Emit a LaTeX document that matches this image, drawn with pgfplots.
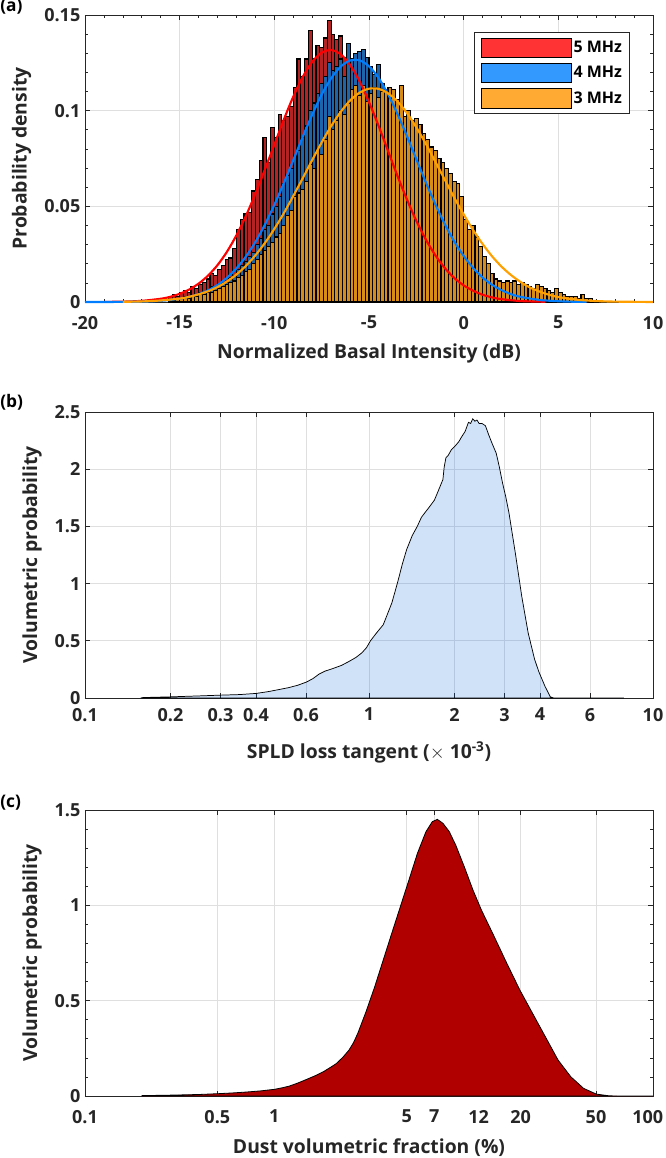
\documentclass[border=0pt]{standalone}
\usepackage{fontspec}
\setmainfont{Open Sans}
\usepackage{pgfplots}
\pgfplotsset{compat=1.18}

\definecolor{axgray}{RGB}{38,38,38}
\definecolor{gridgray}{RGB}{223,223,223}
\definecolor{barred}{RGB}{180,35,35}
\definecolor{barblue}{RGB}{30,100,170}
\definecolor{barorange}{RGB}{215,140,25}
\definecolor{legred}{RGB}{255,51,51}
\definecolor{legblue}{RGB}{51,153,255}
\definecolor{legorange}{RGB}{255,170,51}
\definecolor{curvered}{RGB}{255,0,0}
\definecolor{curveblue}{RGB}{0,125,255}
\definecolor{curveorange}{RGB}{255,160,0}
\definecolor{spldblue}{RGB}{0,100,220}
\definecolor{dustred}{RGB}{176,0,0}

\pgfplotsset{
  mystyle/.style={
    scale only axis, width=426pt, height=214.5pt,
    axis line style={axgray, line width=0.6pt},
    tick style={axgray, line width=0.5pt},
    tick align=inside,
    major tick length=4pt, minor tick length=2.5pt,
    xmajorgrids, ymajorgrids,
    major grid style={gridgray, line width=0.5pt},
    tick label style={font=\bfseries\fontsize{13.5}{15}\selectfont, text=axgray},
    label style={font=\bfseries\fontsize{14.5}{17}\selectfont, text=axgray},
    xticklabel style={yshift=-7pt},
    xlabel style={at={(axis description cs:0.5,-0.181)}, anchor=center},
  }
}

\begin{document}
\begin{tikzpicture}
\path[use as bounding box] (0pt,0pt) rectangle (499.5pt,-868.5pt);

% ---------------- (a) ----------------
\begin{axis}[mystyle,
  at={(63.75pt,-11.25pt)}, anchor=north west,
  height=215.25pt,
  xmin=-20, xmax=10, ymin=0, ymax=0.15,
  xtick={-20,-15,-10,-5,0,5,10},
  xticklabels={-20,-15,-10,-5,0,5,10},
  ytick={0,0.05,0.1,0.15},
  yticklabels={0,0.05,0.1,0.15},
  minor x tick num=4, minor y tick num=4,
  clip=false,
  xlabel={Normalized Basal Intensity (dB)},
  ylabel={Probability density},
  ylabel style={at={(axis description cs:-0.1114,0.5)}, anchor=center},
  legend style={at={(0.9595,0.941)}, anchor=north east, draw=axgray, line width=0.6pt,
    font=\bfseries\fontsize{12}{14}\selectfont, text=black,
    inner xsep=4.5pt, inner ysep=4pt, row sep=4pt, nodes={inner sep=1.2pt}},
  legend cell align=left,
  legend image code/.code={\draw[#1, line width=0.6pt] (0pt,-7.2pt) rectangle (68pt,7.2pt);},
]
% 5 MHz histogram
\addplot[ybar interval, fill=barred, draw=black, line width=0.85pt, forget plot] table {
x y
-15.6 0.003
-15.4 0.004
-15.2 0.003
-15.0 0.005
-14.8 0.006
-14.6 0.005
-14.4 0.008
-14.2 0.007
-14.0 0.009
-13.8 0.010
-13.6 0.012
-13.4 0.015
-13.2 0.014
-13.0 0.017
-12.8 0.019
-12.6 0.022
-12.4 0.023
-12.2 0.028
-12.0 0.038
-11.8 0.043
-11.6 0.046
-11.4 0.047
-11.2 0.058
-11.0 0.064
-10.8 0.074
-10.6 0.086
-10.4 0.073
-10.2 0.091
-10.0 0.086
-9.8 0.098
-9.6 0.095
-9.4 0.097
-9.2 0.102
-9.0 0.112
-8.8 0.127
-8.6 0.118
-8.4 0.127
-8.2 0.142
-8.0 0.127
-7.8 0.134
-7.6 0.133
-7.4 0.138
-7.2 0.147
-7.0 0.140
-6.8 0.137
-6.6 0.139
-6.4 0.128
-6.2 0.125
-6.0 0.121
-5.8 0.118
-5.6 0.110
-5.4 0.104
-5.2 0.099
-5.0 0.093
-4.8 0.088
-4.6 0.082
-4.4 0.076
-4.2 0.070
-4.0 0.064
-3.8 0.058
-3.6 0.053
-3.4 0.048
-3.2 0.043
-3.0 0.038
-2.8 0.034
-2.6 0.030
-2.4 0.026
-2.2 0.023
-2.0 0.020
-1.8 0.020
};
% 4 MHz histogram
\addplot[ybar interval, fill=barblue, draw=black, line width=0.85pt, forget plot] table {
x y
-15.0 0.002
-14.8 0.002
-14.6 0.003
-14.4 0.003
-14.2 0.004
-14.0 0.005
-13.8 0.005
-13.6 0.006
-13.4 0.008
-13.2 0.007
-13.0 0.009
-12.8 0.010
-12.6 0.010
-12.4 0.013
-12.2 0.014
-12.0 0.017
-11.8 0.019
-11.6 0.021
-11.4 0.024
-11.2 0.026
-11.0 0.030
-10.8 0.033
-10.6 0.038
-10.4 0.040
-10.2 0.046
-10.0 0.050
-9.8 0.055
-9.6 0.062
-9.4 0.066
-9.2 0.070
-9.0 0.076
-8.8 0.079
-8.6 0.086
-8.4 0.092
-8.2 0.100
-8.0 0.104
-7.8 0.109
-7.6 0.114
-7.4 0.118
-7.2 0.125
-7.0 0.121
-6.8 0.123
-6.6 0.127
-6.4 0.118
-6.2 0.135
-6.0 0.127
-5.8 0.130
-5.6 0.131
-5.4 0.132
-5.2 0.128
-5.0 0.123
-4.8 0.119
-4.6 0.124
-4.4 0.114
-4.2 0.108
-4.0 0.104
-3.8 0.100
-3.6 0.096
-3.4 0.093
-3.2 0.089
-3.0 0.085
-2.8 0.080
-2.6 0.074
-2.4 0.069
-2.2 0.064
-2.0 0.058
-1.8 0.053
-1.6 0.049
-1.4 0.044
-1.2 0.040
-1.0 0.036
-0.8 0.032
-0.6 0.029
-0.4 0.026
-0.2 0.022
0.0 0.020
0.2 0.020
};
% 3 MHz histogram
\addplot[ybar interval, fill=barorange, draw=black, line width=0.85pt, forget plot] table {
x y
-15.6 0.001
-15.4 0.001
-15.2 0.002
-15.0 0.002
-14.8 0.003
-14.6 0.002
-14.4 0.003
-14.2 0.003
-14.0 0.004
-13.8 0.004
-13.6 0.005
-13.4 0.005
-13.2 0.006
-13.0 0.007
-12.8 0.008
-12.6 0.009
-12.4 0.010
-12.2 0.011
-12.0 0.013
-11.8 0.014
-11.6 0.016
-11.4 0.017
-11.2 0.020
-11.0 0.022
-10.8 0.025
-10.6 0.027
-10.4 0.029
-10.2 0.031
-10.0 0.034
-9.8 0.036
-9.6 0.040
-9.4 0.045
-9.2 0.048
-9.0 0.055
-8.8 0.057
-8.6 0.059
-8.4 0.063
-8.2 0.072
-8.0 0.070
-7.8 0.080
-7.6 0.077
-7.4 0.085
-7.2 0.097
-7.0 0.090
-6.8 0.095
-6.6 0.100
-6.4 0.098
-6.2 0.104
-6.0 0.111
-5.8 0.113
-5.6 0.108
-5.4 0.113
-5.2 0.105
-5.0 0.109
-4.8 0.112
-4.6 0.107
-4.4 0.110
-4.2 0.111
-4.0 0.112
-3.8 0.111
-3.6 0.106
-3.4 0.113
-3.2 0.097
-3.0 0.100
-2.8 0.095
-2.6 0.096
-2.4 0.093
-2.2 0.088
-2.0 0.085
-1.8 0.081
-1.6 0.079
-1.4 0.075
-1.2 0.073
-1.0 0.070
-0.8 0.067
-0.6 0.063
-0.4 0.062
-0.2 0.055
0.0 0.043
0.2 0.038
0.4 0.040
0.6 0.034
0.8 0.029
1.0 0.024
1.2 0.020
1.4 0.015
1.6 0.012
1.8 0.011
2.0 0.010
2.2 0.011
2.4 0.010
2.6 0.011
2.8 0.009
3.0 0.010
3.2 0.009
3.4 0.008
3.6 0.007
3.8 0.009
4.0 0.008
4.2 0.007
4.4 0.006
4.6 0.005
4.8 0.007
5.0 0.005
5.2 0.004
5.4 0.003
5.6 0.003
5.8 0.003
6.0 0.002
6.2 0.004
6.4 0.002
6.6 0.002
6.8 0.001
7.0 0.001
7.2 0.001
};
% fitted curves
\addplot[curvered, line width=1.6pt, smooth, forget plot] coordinates {
(-19,0.00006) (-18,0.00019) (-17,0.00061) (-16,0.0017) (-15.5,0.0027) (-15,0.0043)
(-14.5,0.0065) (-14,0.0096) (-13.5,0.0138) (-13,0.0193) (-12.5,0.0263) (-12,0.0349)
(-11.5,0.0450) (-11,0.0566) (-10.5,0.0692) (-10,0.0822) (-9.5,0.0953) (-9,0.1073)
(-8.5,0.1176) (-8,0.1255) (-7.5,0.1303) (-7,0.1317) (-6.5,0.1295) (-6,0.1239)
(-5.5,0.1154) (-5,0.1045) (-4.5,0.0922) (-4,0.0791) (-3.5,0.0660) (-3,0.0537)
(-2.5,0.0424) (-2,0.0327) (-1.5,0.0245) (-1,0.0178) (-0.5,0.0126) (0,0.0087)
(0.5,0.0059) (1,0.0038) (1.5,0.0024) (2,0.0015) (3,0.0005) (4,0.0002) (4.3,0.0001)
};
\addplot[curveblue, line width=1.6pt, smooth, forget plot] coordinates {
(-20,0.0000) (-19,0.00002) (-18,0.00007) (-17,0.0002) (-16,0.0006) (-15,0.0017)
(-14.5,0.0027) (-14,0.0041) (-13.5,0.0061) (-13,0.0089) (-12.5,0.0127) (-12,0.0176)
(-11.5,0.0238) (-11,0.0314) (-10.5,0.0404) (-10,0.0508) (-9.5,0.0621) (-9,0.0741)
(-8.5,0.0863) (-8,0.0979) (-7.5,0.1084) (-7,0.1169) (-6.5,0.1230) (-6,0.1262)
(-5.5,0.1263) (-5,0.1232) (-4.5,0.1172) (-4,0.1087) (-3.5,0.0984) (-3,0.0868)
(-2.5,0.0746) (-2,0.0626) (-1.5,0.0512) (-1,0.0408) (-0.5,0.0317) (0,0.0241)
(0.5,0.0178) (1,0.0128) (1.5,0.0090) (2,0.0062) (2.5,0.0041) (3,0.0027)
(4,0.0011) (5,0.0004) (6,0.0001) (6.5,0.0001)
};
\addplot[curveorange, line width=1.6pt, smooth, forget plot] coordinates {
(-18,0.0001) (-17,0.0003) (-16,0.0008) (-15,0.0018) (-14.5,0.0027) (-14,0.0040)
(-13.5,0.0056) (-13,0.0078) (-12.5,0.0107) (-12,0.0144) (-11.5,0.0189) (-11,0.0244)
(-10.5,0.0308) (-10,0.0382) (-9.5,0.0464) (-9,0.0554) (-8.5,0.0647) (-8,0.0742)
(-7.5,0.0834) (-7,0.0919) (-6.5,0.0993) (-6,0.1053) (-5.5,0.1094) (-5,0.1115)
(-4.5,0.1114) (-4,0.1091) (-3.5,0.1049) (-3,0.0988) (-2.5,0.0913) (-2,0.0827)
(-1.5,0.0734) (-1,0.0640) (-0.5,0.0546) (0,0.0458) (0.5,0.0376) (1,0.0303)
(1.5,0.0239) (2,0.0185) (2.5,0.0141) (3,0.0105) (3.5,0.0076) (4,0.0055)
(4.5,0.0038) (5,0.0026) (6,0.0012) (7,0.0005) (8,0.0002) (9,0.0001) (10,0.0000)
};
\addlegendimage{fill=legred, draw=black}
\addlegendentry{5 MHz}
\addlegendimage{fill=legblue, draw=black}
\addlegendentry{4 MHz}
\addlegendimage{fill=legorange, draw=black}
\addlegendentry{3 MHz}
\end{axis}

% ---------------- (b) ----------------
\begin{axis}[mystyle,
  at={(63.75pt,-309pt)}, anchor=north west,
  xmode=log, xmin=0.1, xmax=10, ymin=0, ymax=2.5,
  xtick={0.1,0.2,0.3,0.4,0.6,1,2,3,4,6,10},
  xticklabels={0.1,0.2,0.3,0.4,0.6,1,2,3,4,6,10},
  xminorticks=false,
  ytick={0,0.5,1,1.5,2,2.5},
  yticklabels={0,0.5,1,1.5,2,2.5},
  xticklabel style={yshift=3pt},
  xlabel={SPLD loss tangent ($\times$ 10\textsuperscript{-3})},
  xlabel style={at={(axis description cs:0.5,-0.19)}, anchor=center},
  ylabel={Volumetric probability},
  ylabel style={at={(axis description cs:-0.093,0.5)}, anchor=center},
]
\addplot[fill=spldblue, fill opacity=0.19, draw=black, draw opacity=1, line width=0.55pt] coordinates {
(0.157,0) (0.16,0.004) (0.2,0.01) (0.25,0.018) (0.3,0.025) (0.35,0.03) (0.4,0.04)
(0.44,0.055) (0.473,0.07) (0.52,0.09) (0.562,0.112) (0.603,0.14) (0.635,0.17)
(0.668,0.21) (0.70,0.235) (0.741,0.255) (0.80,0.285) (0.851,0.32) (0.90,0.355)
(0.944,0.395) (0.98,0.44) (1.012,0.50) (1.06,0.565) (1.122,0.64) (1.16,0.73)
(1.203,0.83) (1.235,0.93) (1.267,1.03) (1.31,1.17) (1.358,1.30) (1.42,1.42)
(1.479,1.50) (1.53,1.58) (1.585,1.63) (1.62,1.66) (1.70,1.73) (1.76,1.82)
(1.821,1.91) (1.84,2.02) (1.866,2.10) (1.90,2.12) (1.95,2.17) (2.006,2.20)
(2.07,2.24) (2.128,2.29) (2.18,2.33) (2.24,2.41) (2.28,2.40) (2.318,2.44)
(2.36,2.42) (2.40,2.43) (2.442,2.40) (2.50,2.40) (2.57,2.38) (2.64,2.30)
(2.708,2.23) (2.805,2.14) (2.871,2.03) (2.953,1.88) (3.03,1.76) (3.110,1.62)
(3.274,1.27) (3.450,0.89) (3.634,0.57) (3.828,0.34) (3.963,0.23) (4.17,0.10)
(4.35,0.01) (4.47,0) (7.9,0)
} \closedcycle;
\end{axis}

% ---------------- (c) ----------------
\begin{axis}[mystyle,
  at={(63.75pt,-607.5pt)}, anchor=north west,
  xmode=log, xmin=0.1, xmax=100, ymin=0, ymax=1.5,
  xtick={0.1,0.5,1,5,7,12,20,50,100},
  xticklabels={0.1,0.5,1,5,7,12,20,50,\hspace{-8pt}100},
  xminorticks=false,
  ytick={0,0.5,1,1.5},
  yticklabels={0,0.5,1,1.5},
  minor y tick num=4,
  xlabel={Dust volumetric fraction (\%)},
  ylabel={Volumetric probability},
  ylabel style={at={(axis description cs:-0.093,0.5)}, anchor=center},
]
\addplot[fill=dustred, draw=black, line width=0.6pt] coordinates {
(0.2,0.002) (0.3,0.005) (0.4,0.008) (0.5,0.012) (0.6,0.016) (0.716,0.021)
(0.85,0.027) (1.0,0.035) (1.1,0.043) (1.2,0.052) (1.33,0.068) (1.48,0.087)
(1.65,0.107) (1.82,0.128) (2.0,0.153) (2.13,0.171) (2.3,0.203) (2.48,0.241)
(2.62,0.28) (2.76,0.329) (3.05,0.442) (3.39,0.573) (3.76,0.713) (4.17,0.853)
(4.63,0.993) (5.14,1.133) (5.70,1.273) (6.32,1.386) (6.83,1.439) (7.26,1.451)
(7.78,1.430) (8.40,1.386) (9.08,1.316) (10.07,1.203) (11.2,1.080) (12.4,0.976)
(14.5,0.836) (16.9,0.696) (19.8,0.556) (23.1,0.434) (27.0,0.311) (31.5,0.189)
(36.8,0.101) (43.0,0.040) (50.2,0.010) (58.6,0.001) (65,0) (100,0)
} \closedcycle;
\end{axis}

\node[anchor=west, font=\bfseries\fontsize{13}{15}\selectfont, text=black, inner sep=0pt] at (0pt,-5pt) {(a)};
\node[anchor=west, font=\bfseries\fontsize{13}{15}\selectfont, text=black, inner sep=0pt] at (0pt,-302pt) {(b)};
\node[anchor=west, font=\bfseries\fontsize{13}{15}\selectfont, text=black, inner sep=0pt] at (0pt,-602pt) {(c)};
\end{tikzpicture}
\end{document}
